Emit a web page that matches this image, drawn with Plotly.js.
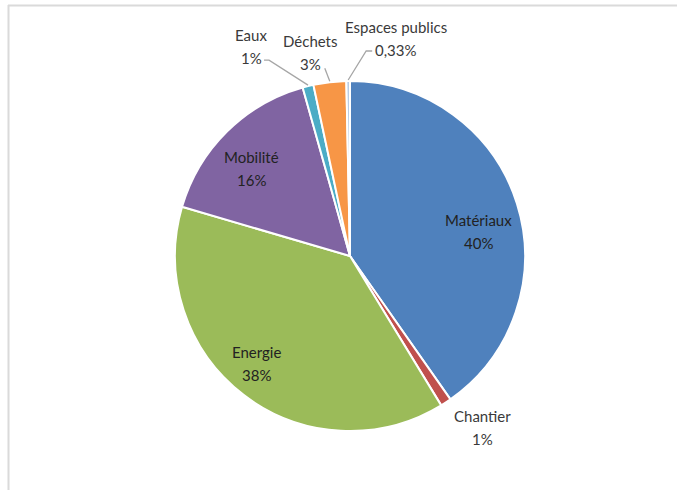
<!DOCTYPE html>
<html><head><meta charset="utf-8">
<script src="https://cdn.plot.ly/plotly-3.0.1.min.js"></script>
<style>html,body{margin:0;padding:0;background:#fff}#chart{width:677px;height:490px}</style>
</head><body><div id="chart"></div>
<script>
// ---- data ----
const categories = ['Matériaux','Chantier','Energie','Mobilité','Eaux','Déchets','Espaces publics'];
const values = [40, 1, 38, 16, 1, 3, 0.33];
const pctLabels = ['40%','1%','38%','16%','1%','3%','0,33%'];

// ---- style / layout ----
const colors = ['#4F81BD','#C0504D','#9BBB59','#8064A2','#4BACC6','#F79646','#B9CDE5'];
const W = 677, H = 490, CX = 350, CY = 256, R = 175;
const labelMode = ['in','out','in','in','out','out','out'];
// inside: nudge from point at 0.75R on mid-angle; outside: text centre relative to slice edge point
const labelNudge = [[3,15],[37,25],[-14,3],[-6,6],[-57,-40],[-19,-30],[48,-43]];
const leaderStart = [null,null,null,null,[13,14],[14,16],[-24,13]];
const leaderElbow = [0,0,0,0,5,0,-6];
const FONT = 'Lato, "Open Sans", sans-serif';

const px = x => x / W, py = y => 1 - y / H;
const total = values.reduce((a,b)=>a+b,0);
let cum = 0;
const annotations = [], shapes = [];
values.forEach((v,i) => {
  const mid = (cum + v/2) / total * 2*Math.PI; cum += v;
  const sx = Math.sin(mid), sy = Math.cos(mid);
  let tx, ty;
  if (labelMode[i] === 'in') {
    tx = CX + 0.75*R*sx + labelNudge[i][0];
    ty = CY - 0.75*R*sy + labelNudge[i][1];
  } else {
    const ex = CX + R*sx, ey = CY - R*sy;
    tx = ex + labelNudge[i][0]; ty = ey + labelNudge[i][1];
    if (leaderStart[i]) {
      const x0 = tx + leaderStart[i][0], y0 = ty + leaderStart[i][1];
      const x1 = x0 + leaderElbow[i];
      shapes.push({type:'path', xref:'paper', yref:'paper',
        path:`M${px(x0)},${py(y0)} L${px(x1)},${py(y0)} L${px(ex)},${py(ey-1)}`,
        line:{color:'#A6A6A6', width:1.3}});
    }
  }
  const col = labelMode[i]==='in' ? '#222222' : '#3A3A3A';
  annotations.push({xref:'paper', yref:'paper', x:px(tx), y:py(ty-11.5), text:categories[i],
    showarrow:false, xanchor:'center', yanchor:'middle', font:{family:FONT, size:15, color:col}});
  annotations.push({xref:'paper', yref:'paper', x:px(tx), y:py(ty+11.5), text:pctLabels[i],
    showarrow:false, xanchor:'center', yanchor:'middle', font:{family:FONT, size:15, color:col}});
});

// frame lines
shapes.push({type:'line', xref:'paper', yref:'paper', x0:px(8), x1:1, y0:py(5.5), y1:py(5.5), line:{color:'#DADADA', width:2}});
shapes.push({type:'line', xref:'paper', yref:'paper', x0:px(8.5), x1:px(8.5), y0:0, y1:py(5), line:{color:'#DADADA', width:2}});

const trace = {
  type:'pie', labels:categories, values:values, sort:false, direction:'clockwise', rotation:0,
  marker:{colors:colors, line:{color:'#FFFFFF', width:2}},
  textinfo:'none', hoverinfo:'none',
  domain:{x:[px(CX-R), px(CX+R)], y:[py(CY+R), py(CY-R)]}
};
Plotly.newPlot('chart', [trace], {
  width:W, height:H, margin:{l:0,r:0,t:0,b:0}, showlegend:false,
  paper_bgcolor:'#FFFFFF', annotations:annotations, shapes:shapes
}, {staticPlot:true});
</script></body></html>
